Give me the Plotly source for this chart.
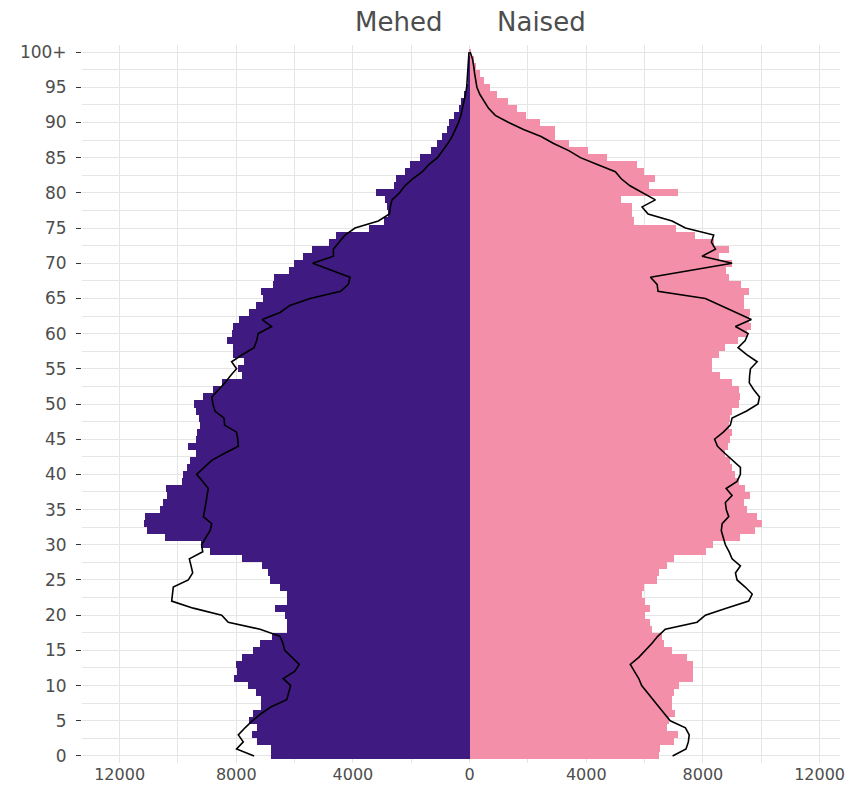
import plotly.graph_objects as go

ages = list(range(0, 101))

male = [6820, 6820, 7300, 7470, 7300, 7550, 7415, 7160, 7160, 7325,
        7590, 8080, 7990, 8010, 7815, 7415, 7185, 6785, 6270, 6270,
        6330, 6670, 6270, 6270, 6500, 6860, 6900, 7130, 7815, 8900,
        9220, 10445, 11075, 11165, 11130, 10620, 10520, 10390, 10410, 9870,
        9840, 9700, 9590, 9380, 9645, 9390, 9360, 9245, 9270, 9380,
        9440, 9130, 8790, 8500, 7820, 7930, 7720, 8120, 8100, 8310,
        8160, 8100, 7900, 7560, 7320, 7100, 7150, 6730, 6700, 6180,
        6020, 5700, 5410, 4830, 4580, 3440, 2950, 2812, 2835, 2892,
        3200, 2606, 2515, 2206, 2034, 1692, 1314, 1120, 949, 777,
        697, 526, 377, 286, 206, 114, 70, 50, 30, 20, 10]

female = [6485, 6540, 7000, 7150, 6770, 6850, 7035, 6942, 6942, 7000,
          7170, 7663, 7663, 7663, 7456, 6942, 6655, 6600, 6255, 6200,
          6030, 6200, 6030, 5915, 5970, 6430, 6485, 6770, 6997, 8110,
          8335, 9285, 9800, 10030, 9860, 9515, 9400, 9630, 9455, 9230,
          9115, 9000, 8940, 8770, 8860, 8940, 9000, 8885, 8940, 9000,
          9250, 9285, 9230, 9000, 8600, 8315, 8315, 8540, 8770, 9200,
          9515, 9660, 9570, 9630, 9400, 9400, 9570, 9320, 8910, 8795,
          9000, 8540, 8910, 8370, 7740, 7080, 5627, 5570, 5570, 5203,
          7135, 6140, 6347, 5970, 5742, 4713, 4062, 3397, 2916, 2916,
          2425, 1945, 1626, 1316, 939, 710, 481, 367, 230, 138, 60]

male_ref = [7390, 7990, 7760, 7930, 7700, 7450, 7150, 6800, 6270, 6200,
            6135, 6390, 6000, 5840, 6100, 6340, 6400, 6500, 7185, 8275,
            8500, 9475, 10215, 10200, 10160, 9645, 9495, 9550, 9610, 9150,
            9190, 9050, 8900, 8840, 9130, 9080, 9040, 9000, 8960, 9150,
            9360, 9100, 8840, 8400, 7930, 7950, 7990, 8400, 8420, 8730,
            8800, 8840, 8600, 8390, 8200, 7990, 8160, 7800, 7390, 7300,
            7250, 6790, 7110, 6500, 6160, 5470, 4420, 4160, 4100, 4740,
            5380, 4670, 4670, 4470, 4270, 3930, 3130, 2750, 2720, 2660,
            2400, 2220, 1950, 1620, 1400, 1100, 920, 750, 600, 480,
            380, 300, 240, 180, 140, 100, 80, 60, 50, 40, 20]

female_ref = [6960, 7420, 7500, 7530, 7400, 6880, 6680, 6480, 6280, 6085,
              5900, 5800, 5650, 5510, 5800, 6030, 6255, 6450, 6710, 7800,
              8085, 8800, 9570, 9690, 9450, 9170, 9115, 9285, 9000, 8900,
              8770, 8700, 8630, 8660, 8885, 8800, 8770, 9000, 8795, 9170,
              9285, 9285, 9000, 8750, 8500, 8400, 8700, 8940, 9000, 9500,
              9890, 9940, 9750, 9590, 9600, 9630, 9860, 9500, 9205, 9450,
              9550, 9115, 9660, 9150, 8600, 8085, 6460, 6430, 6200, 7600,
              9000, 7970, 8430, 8290, 8370, 7400, 6942, 6120, 5913, 6370,
              5913, 5500, 5200, 4997, 4400, 3800, 3400, 2880, 2450, 1850,
              1340, 880, 650, 500, 350, 250, 200, 170, 140, 100, 20]

x_tickvals = [-12000, -8000, -4000, 0, 4000, 8000, 12000]
x_ticktext = ["12000", "8000", "4000", "0", "4000", "8000", "12000"]
y_tickvals = list(range(0, 101, 5))
y_ticktext = [str(v) for v in range(0, 100, 5)] + ["100+"]

purple = "#3F1A80"
pink = "#F48FAA"

fig = go.Figure()
fig.add_trace(go.Bar(y=ages, x=[-v for v in male], orientation="h",
                     marker=dict(color=purple, line=dict(width=0)), width=1.0,
                     showlegend=False))
fig.add_trace(go.Bar(y=ages, x=female, orientation="h",
                     marker=dict(color=pink, line=dict(width=0)), width=1.0,
                     showlegend=False))
fig.add_trace(go.Scatter(y=ages, x=[-v for v in male_ref], mode="lines",
                         line=dict(color="black", width=1.6), showlegend=False))
fig.add_trace(go.Scatter(y=ages, x=female_ref, mode="lines",
                         line=dict(color="black", width=1.6), showlegend=False))

grid = "#E5E5E5"
fig.update_layout(
    width=848, height=778,
    margin=dict(l=74, r=16, t=37, b=23),
    plot_bgcolor="white", paper_bgcolor="white",
    barmode="overlay", bargap=0,
    font=dict(family="DejaVu Sans", color="#4D4D4D", size=15),
    xaxis=dict(range=[-13290, 12700], tickvals=x_tickvals, ticktext=x_ticktext,
               automargin=False,
               showgrid=True, gridcolor=grid, gridwidth=1.4,
               minor=dict(dtick=2000, tick0=0, showgrid=True, gridcolor=grid, gridwidth=0.8),
               zeroline=False, showline=False, ticks="", tickfont=dict(size=16, color="#4D4D4D")),
    yaxis=dict(range=[-1, 101], tickvals=y_tickvals, ticktext=y_ticktext,
               automargin=False,
               showgrid=True, gridcolor=grid, gridwidth=1.4,
               minor=dict(dtick=2.5, tick0=0, showgrid=True, gridcolor=grid, gridwidth=0.8),
               zeroline=False, showline=False, ticks="outside", ticklen=5,
               tickcolor="#333333", tickwidth=1.2, ticklabelstandoff=6,
               tickfont=dict(size=17, color="#4D4D4D")),
    annotations=[
        dict(text="Mehed", x=-2450, xref="x", y=1.0316, yref="paper",
             showarrow=False, font=dict(size=26, color="#4D4D4D"), yanchor="middle"),
        dict(text="Naised", x=2450, xref="x", y=1.0316, yref="paper",
             showarrow=False, font=dict(size=26, color="#4D4D4D"), yanchor="middle"),
    ],
)

fig.write_html("out.html")
